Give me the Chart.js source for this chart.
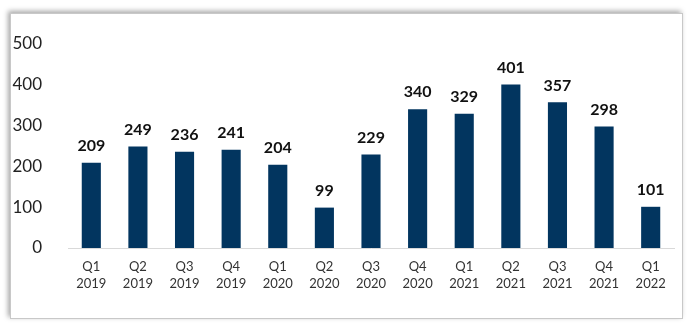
<!DOCTYPE html>
<html>
<head>
<meta charset="utf-8">
<script src="https://cdn.jsdelivr.net/npm/chart.js@4"></script>
<style>
  body { margin: 0; background: #fff; }
  #wrap { position: relative; width: 688px; height: 324px; overflow: hidden; }
  #card {
    position: absolute; left: 10px; top: 13px; width: 671px; height: 304px;
    border: 1px solid #c8c8c8; background: #fff;
    box-shadow: -2px -2px 5px rgba(0,0,0,0.35);
  }
  #chart { position: absolute; left: 0; top: 0; }
</style>
</head>
<body>
<div id="wrap">
  <div id="card"></div>
  <canvas id="chart" width="688" height="324"></canvas>
</div>
<script>
var quarters = [["Q1", "2019"], ["Q2", "2019"], ["Q3", "2019"], ["Q4", "2019"],
                ["Q1", "2020"], ["Q2", "2020"], ["Q3", "2020"], ["Q4", "2020"],
                ["Q1", "2021"], ["Q2", "2021"], ["Q3", "2021"], ["Q4", "2021"],
                ["Q1", "2022"]];
var values = [209, 249, 236, 241, 204, 99, 229, 340, 329, 401, 357, 298, 101];
var yTicks = [0, 100, 200, 300, 400, 500];

// value labels above each bar
var barLabels = {
    id: 'barLabels',
    afterDatasetsDraw: function (chart) {
        var ctx = chart.ctx;
        var meta = chart.getDatasetMeta(0);
        ctx.save();
        ctx.font = 'bold 16px Lato';
        ctx.fillStyle = '#111';
        ctx.textAlign = 'center';
        ctx.textBaseline = 'bottom';
        meta.data.forEach(function (bar, i) {
            ctx.fillText(values[i], bar.x, bar.y - 9);
        });
        ctx.restore();
    }
};

var chart = new Chart(document.getElementById('chart').getContext('2d'), {
    type: 'bar',
    data: {
        labels: quarters,
        datasets: [{
            data: values,
            backgroundColor: '#02355f',
            borderWidth: 0,
            barPercentage: 0.82,
            categoryPercentage: 0.5
        }]
    },
    options: {
        responsive: false,
        animation: false,
        layout: { padding: { top: 44, right: 14, left: 0, bottom: 0 } },
        plugins: {
            legend: { display: false },
            tooltip: { enabled: false }
        },
        scales: {
            x: {
                grid: { display: true, drawOnChartArea: false, drawTicks: false },
                border: { display: true, color: '#d9d9d9', width: 1 },
                ticks: {
                    color: '#333',
                    font: { family: 'Lato', size: 13, lineHeight: 1.3 },
                    padding: 10,
                    maxRotation: 0
                },
                afterFit: function (s) { s.height = 76; }
            },
            y: {
                min: 0,
                max: 500,
                afterBuildTicks: function (s) {
                    s.ticks = yTicks.map(function (v) { return { value: v }; });
                },
                grid: { display: false },
                border: { display: false },
                ticks: {
                    color: '#222',
                    font: { family: 'Lato', size: 17 },
                    padding: 18
                },
                afterFit: function (s) { s.width = 68; }
            }
        }
    },
    plugins: [barLabels]
});
</script>
</body>
</html>
